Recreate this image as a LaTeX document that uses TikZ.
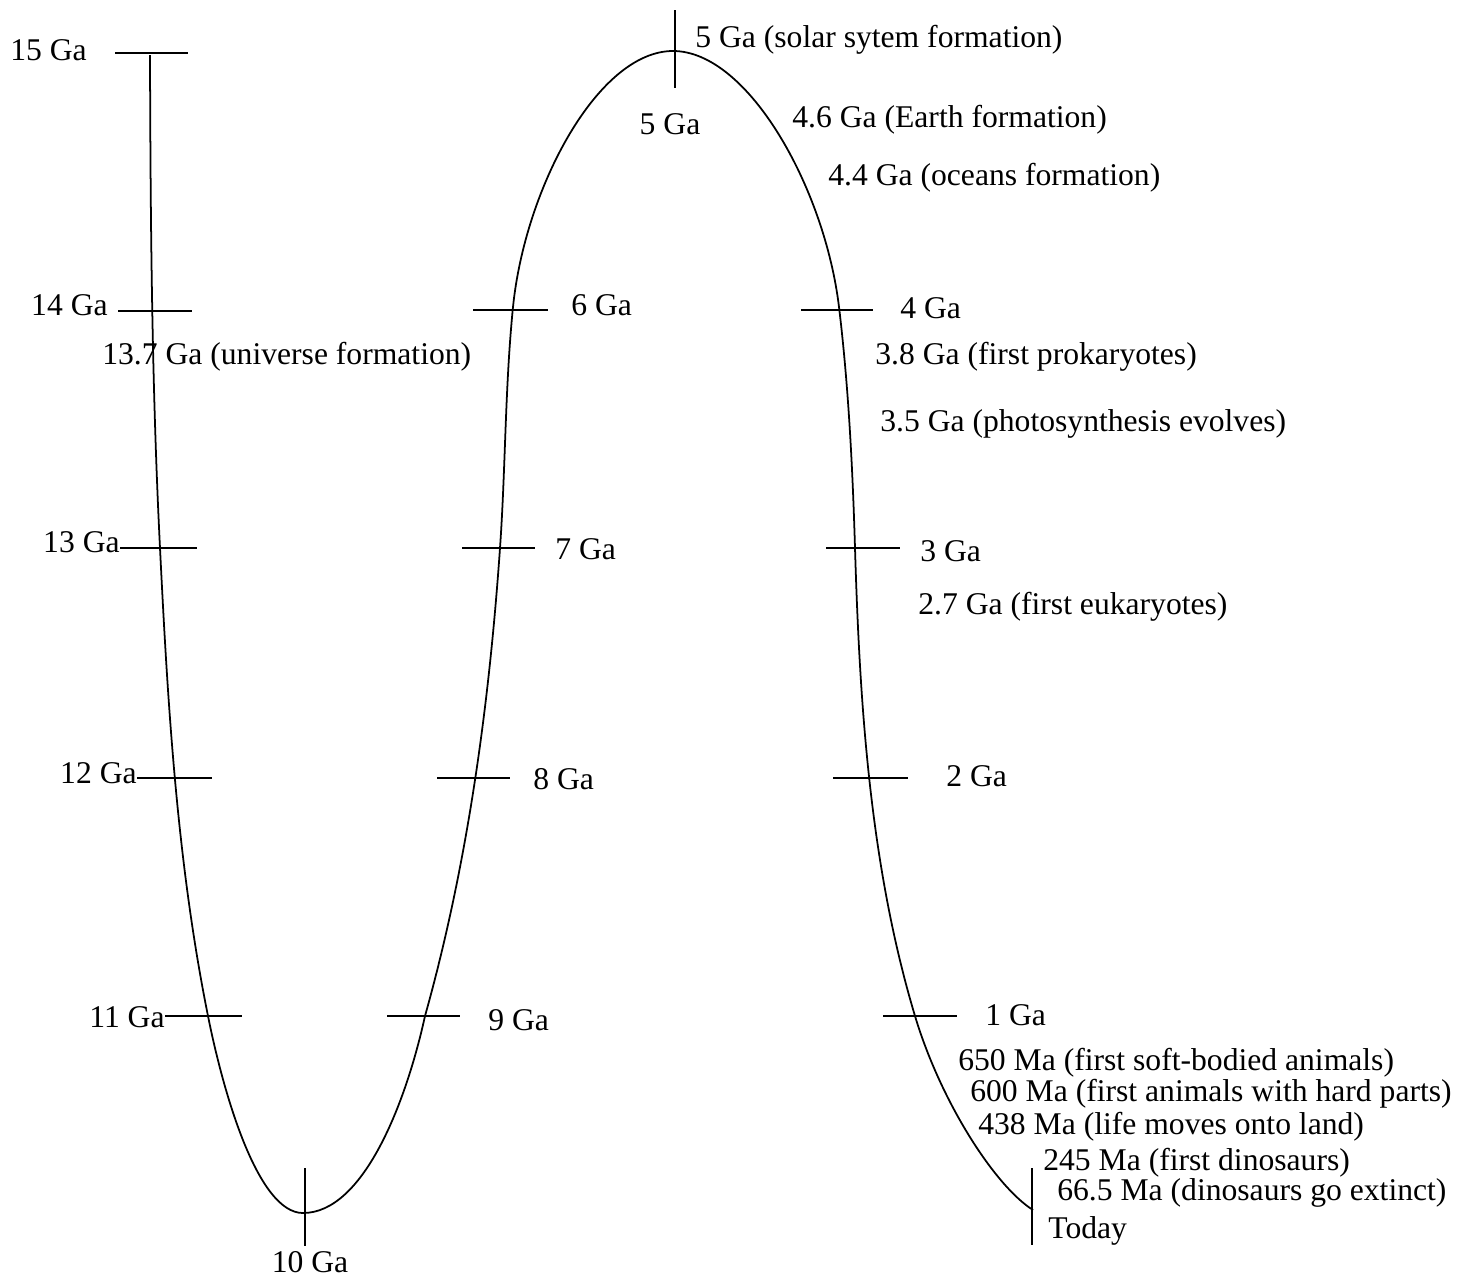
\documentclass[tikz,border=0pt]{standalone}
\usepackage{fontspec}
\setmainfont{Liberation Serif}
\begin{document}
\begin{tikzpicture}[x=0.02cm,y=-0.02cm,
  lbl/.style={inner sep=0pt,font=\fontsize{18}{21}\selectfont},
  tickmark/.style={line width=1.1pt},
  curveline/.style={line width=1pt}]
\useasboundingbox (0,0) rectangle (1483,1279);
% curve
\draw[curveline] (150,55)
  .. controls (150.5,219) and (151.8,384) .. (160,548)
  .. controls (167.8,705) and (177,862) .. (208,1016)
  .. controls (223.7,1094.4) and (258,1213) .. (303,1213)
  .. controls (363,1213) and (405.7,1104) .. (425,1016)
  .. controls (467.6,864) and (489,706) .. (500,548)
  .. controls (505.6,468) and (505,387) .. (513,307)
  .. controls (525,188) and (598,51) .. (673,51)
  .. controls (748,51) and (824.7,188) .. (839,307)
  .. controls (848.5,386) and (852.6,468) .. (855,548)
  .. controls (859.7,705) and (870,866) .. (915,1016)
  .. controls (940.8,1102) and (995,1186) .. (1033,1210);
% ticks left branch
\draw[tickmark] (115,53) -- (188,53);
\draw[tickmark] (118,311) -- (192,311);
\draw[tickmark] (120,548) -- (197,548);
\draw[tickmark] (137,778) -- (212,778);
\draw[tickmark] (165,1016) -- (242,1016);
\draw[tickmark] (305,1168) -- (305,1246);
% ticks middle branch
\draw[tickmark] (387,1016) -- (460,1016);
\draw[tickmark] (437,778) -- (510,778);
\draw[tickmark] (462,548) -- (535,548);
\draw[tickmark] (473,310) -- (548,310);
\draw[tickmark] (675,10) -- (675,88);
% ticks right branch
\draw[tickmark] (801,310) -- (873,310);
\draw[tickmark] (826,548) -- (900,548);
\draw[tickmark] (833,778) -- (908,778);
\draw[tickmark] (883,1016) -- (957,1016);
\draw[tickmark] (1032,1168) -- (1032,1245);
% tick labels
\node[lbl,anchor=west] (l15) at (10,50) {15 Ga};
\node[lbl,anchor=east] (l14) at (108,305) {14 Ga};
\node[lbl,anchor=east] (l13) at (120,542) {13 Ga};
\node[lbl,anchor=east] (l12) at (137,773) {12 Ga};
\node[lbl,anchor=east] (l11) at (165,1017) {11 Ga};
\node[lbl] (l10) at (310,1262) {10 Ga};
\node[lbl,anchor=west] (l9) at (488,1020) {9 Ga};
\node[lbl,anchor=west] (l8) at (533,779) {8 Ga};
\node[lbl,anchor=west] (l7) at (555,549) {7 Ga};
\node[lbl,anchor=west] (l6) at (571,305) {6 Ga};
\node[lbl] (l5) at (670,124) {5 Ga};
\node[lbl,anchor=west] (l4) at (900,308) {4 Ga};
\node[lbl,anchor=west] (l3) at (920,551) {3 Ga};
\node[lbl,anchor=west] (l2) at (946,776) {2 Ga};
\node[lbl,anchor=west] (l1) at (985,1015) {1 Ga};
\node[lbl,anchor=west] (ltoday) at (1048,1231) {Today};
% events
\node[lbl,anchor=west] (e137) at (102,357) {13.7 Ga (universe formation)};
\node[lbl,anchor=west] (e5) at (695,40) {5 Ga (solar sytem formation)};
\node[lbl,anchor=west] (e46) at (792,120) {4.6 Ga (Earth formation)};
\node[lbl,anchor=west] (e44) at (828,178) {4.4 Ga (oceans formation)};
\node[lbl,anchor=west] (e38) at (875,357) {3.8 Ga (first prokaryotes)};
\node[lbl,anchor=west] (e35) at (880,424) {3.5 Ga (photosynthesis evolves)};
\node[lbl,anchor=west] (e27) at (918,607) {2.7 Ga (first eukaryotes)};
\node[lbl,anchor=west] (e650) at (958,1063) {650 Ma (first soft-bodied animals)};
\node[lbl,anchor=west] (e600) at (970,1094) {600 Ma (first animals with hard parts)};
\node[lbl,anchor=west] (e438) at (978,1127) {438 Ma (life moves onto land)};
\node[lbl,anchor=west] (e245) at (1043,1163) {245 Ma (first dinosaurs)};
\node[lbl,anchor=west] (e665) at (1057,1193) {66.5 Ma (dinosaurs go extinct)};
\end{tikzpicture}
\end{document}
